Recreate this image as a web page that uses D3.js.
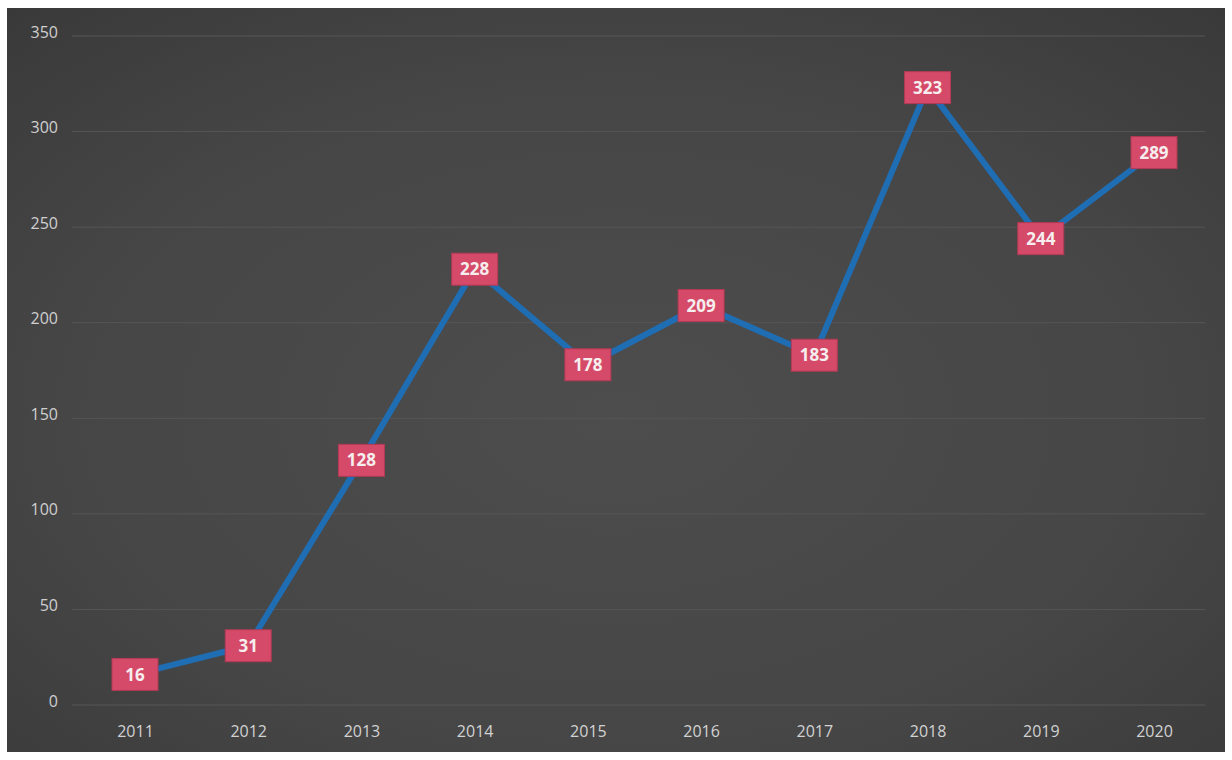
<!DOCTYPE html>
<html>
<head>
<meta charset="utf-8">
<script src="https://cdn.jsdelivr.net/npm/d3@7"></script>
<style>
  html, body { margin: 0; padding: 0; background: #ffffff; }
  svg { display: block; }
</style>
</head>
<body>
<svg id="chart" width="1232" height="760"></svg>
<script>
// Yearly totals
const years = ["2011", "2012", "2013", "2014", "2015", "2016", "2017", "2018", "2019", "2020"];
const counts = [16, 31, 128, 228, 178, 209, 183, 323, 244, 289];
const yTicks = [0, 50, 100, 150, 200, 250, 300, 350];

const svg = d3.select("#chart");

// Dark panel with a soft radial shading
const defs = svg.append("defs");
const grad = defs.append("radialGradient")
  .attr("id", "panelShade")
  .attr("cx", "50%").attr("cy", "55%").attr("r", "75%");
grad.append("stop").attr("offset", "0%").attr("stop-color", "#4d4d4e");
grad.append("stop").attr("offset", "60%").attr("stop-color", "#464647");
grad.append("stop").attr("offset", "100%").attr("stop-color", "#39393a");

svg.append("rect")
  .attr("x", 7).attr("y", 8)
  .attr("width", 1218).attr("height", 744)
  .attr("fill", "url(#panelShade)");

const x = d3.scalePoint()
  .domain(years)
  .range([135, 1154]);

const y = d3.scaleLinear()
  .domain([0, 350])
  .range([705, 36]);

const fontFamily = "'Open Sans', 'Liberation Sans', sans-serif";

// Horizontal gridlines
svg.append("g")
  .selectAll("line")
  .data(yTicks)
  .join("line")
  .attr("x1", 72).attr("x2", 1205)
  .attr("y1", d => y(d)).attr("y2", d => y(d))
  .attr("stroke", "#565658")
  .attr("stroke-width", 1);

// Value axis labels
const yAxis = d3.axisLeft(y).tickValues(yTicks).tickSize(0).tickPadding(0);
const gy = svg.append("g")
  .attr("transform", "translate(58,-4)")
  .call(yAxis);
gy.select(".domain").remove();
gy.selectAll("text")
  .attr("fill", "#cfcfcf")
  .style("font-family", fontFamily)
  .style("font-size", "16px");

// Year labels
const xAxis = d3.axisBottom(x).tickSize(0).tickPadding(0);
const gx = svg.append("g")
  .attr("transform", "translate(0,726)")
  .call(xAxis);
gx.select(".domain").remove();
gx.selectAll("text")
  .attr("fill", "#d2d2d2")
  .style("font-family", fontFamily)
  .style("font-size", "16px");

// Series line
const line = d3.line()
  .x((d, i) => x(years[i]))
  .y(d => y(d));

svg.append("path")
  .datum(counts)
  .attr("d", line)
  .attr("fill", "none")
  .attr("stroke", "#1f6db3")
  .attr("stroke-width", 6)
  .attr("stroke-linejoin", "round");

// Value labels in boxes
const boxW = 46, boxH = 32;
const labels = svg.append("g")
  .selectAll("g")
  .data(counts)
  .join("g")
  .attr("transform", (d, i) => `translate(${x(years[i])},${y(d)})`);

labels.append("rect")
  .attr("x", -boxW / 2).attr("y", -boxH / 2)
  .attr("width", boxW).attr("height", boxH)
  .attr("fill", "#d54a68")
  .attr("stroke", "#b23a55")
  .attr("stroke-width", 1);

labels.append("text")
  .attr("text-anchor", "middle")
  .attr("dy", "0.36em")
  .attr("fill", "#f6eeee")
  .style("font-family", fontFamily)
  .style("font-size", "17px")
  .style("font-weight", "700")
  .text(d => d);
</script>
</body>
</html>
